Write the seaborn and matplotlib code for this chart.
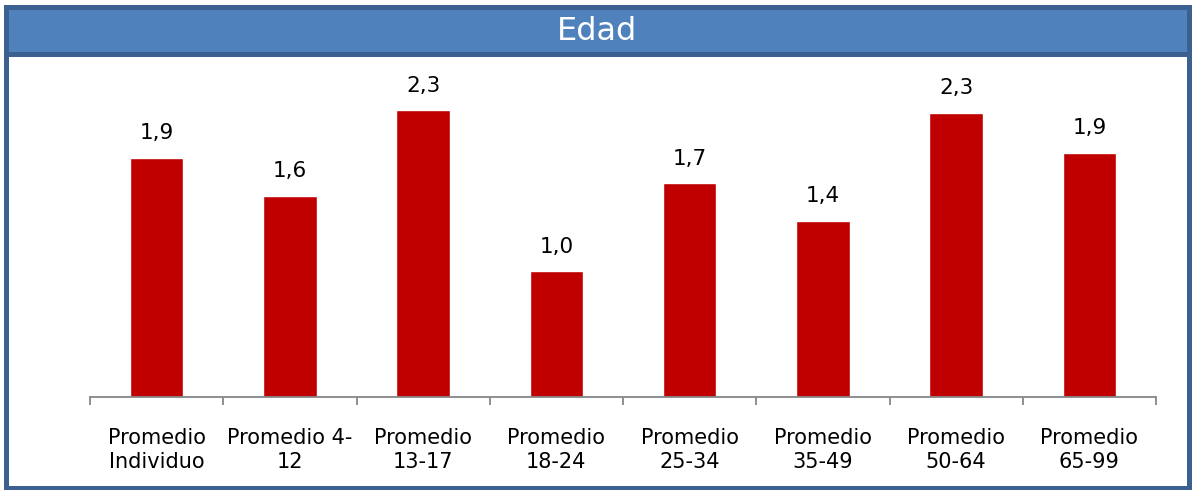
import matplotlib
matplotlib.use("Agg")
import matplotlib.pyplot as plt
import seaborn as sns
import pandas as pd
from matplotlib.patches import Rectangle

categories = ["Promedio\nIndividuo", "Promedio 4-\n12", "Promedio\n13-17", "Promedio\n18-24",
              "Promedio\n25-34", "Promedio\n35-49", "Promedio\n50-64", "Promedio\n65-99"]
values = [1.9, 1.6, 2.28, 1.0, 1.7, 1.4, 2.26, 1.94]
title = "Edad"

sns.set_theme(style="white")
plt.rcParams['font.family'] = ['DejaVu Sans']

W, H = 1194, 490
fig = plt.figure(figsize=(W / 100, H / 100), dpi=100)
fig.patch.set_facecolor("white")

def fx(px):
    return px / W

def fy(py):
    return 1 - py / H

border = "#3C6191"
fill = "#4F81BD"

# title bar
fig.patches.append(Rectangle((fx(5.5), fy(54)), fx(1188.5) - fx(5.5), fy(7.5) - fy(54),
                             transform=fig.transFigure, facecolor=fill, edgecolor=border,
                             linewidth=3.6, zorder=0))
# outer frame
fig.patches.append(Rectangle((fx(5.5), fy(488)), fx(1188.5) - fx(5.5), fy(7.5) - fy(488),
                             transform=fig.transFigure, facecolor="none", edgecolor=border,
                             linewidth=3.6, zorder=5))
fig.text(fx(597), fy(32), title, color="white", fontsize=23, ha="center", va="center")

ax = fig.add_axes([fx(90), fy(397), fx(1156) - fx(90), fy(60) - fy(397)])
df = pd.DataFrame({"cat": categories, "val": values})
sns.barplot(data=df, x="cat", y="val", color="#C00000", saturation=1, width=0.4, ax=ax)

ax.set_xlim(-0.5, len(categories) - 0.5)
ax.set_ylim(0, 2.68)
ax.set_xlabel("")
ax.set_ylabel("")
ax.set_yticks([])
for s in ["top", "right", "left"]:
    ax.spines[s].set_visible(False)
ax.spines["bottom"].set_color("#868686")
ax.spines["bottom"].set_linewidth(1.3)
ax.set_facecolor("none")

ax.set_xticks(range(len(categories)))
ax.set_xticklabels(categories, fontsize=15, color="black", linespacing=1.25)
ax.set_xticks([i - 0.5 for i in range(len(categories) + 1)], minor=True)
ax.tick_params(axis="x", which="major", length=0, pad=22)
ax.tick_params(axis="x", which="minor", length=5.5, width=1.3, color="#868686", bottom=True)

ax.bar_label(ax.containers[0], labels=[f"{v:.1f}".replace(".", ",") for v in values],
             padding=10.5, fontsize=15.5, color="black")

fig.savefig("out.png", dpi=100)
